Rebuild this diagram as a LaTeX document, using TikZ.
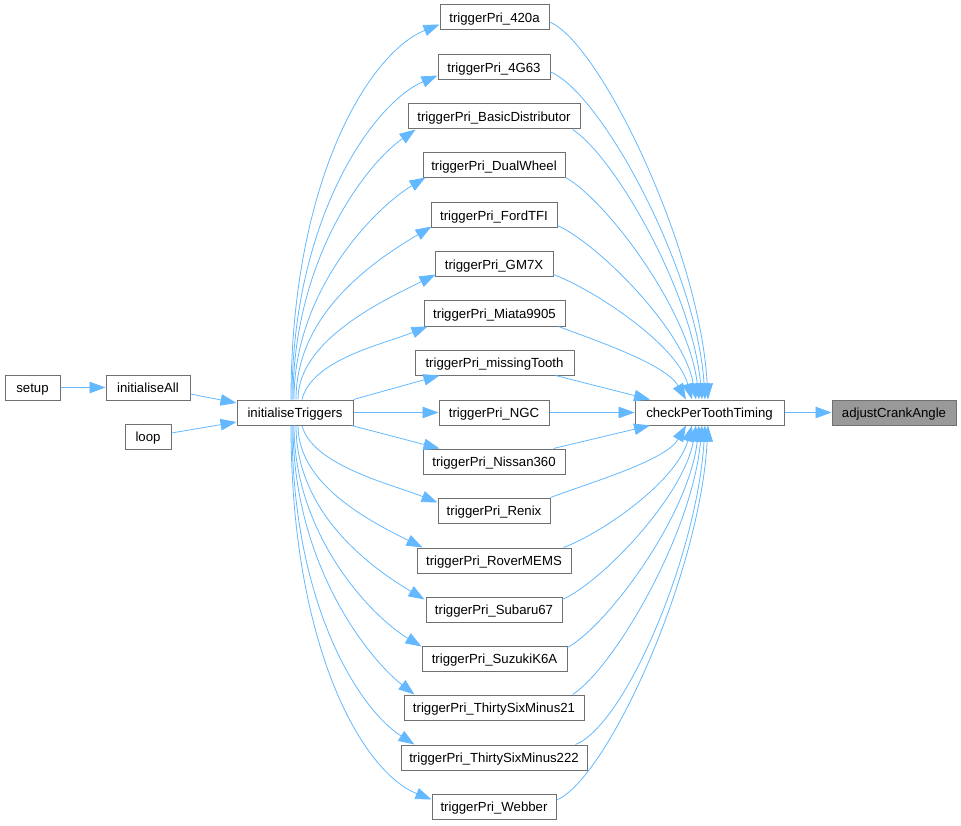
\documentclass[tikz,border=0pt]{standalone}
\usepackage{fontspec}
\setmainfont{Liberation Sans}
\usetikzlibrary{arrows.meta}
\definecolor{edgeblue}{HTML}{63B8FF}
\definecolor{boxline}{HTML}{707070}
\definecolor{boxfill}{HTML}{999999}
\tikzset{
  box/.style={draw=boxline, line width=1pt, fill=white, minimum height=25pt, inner sep=0pt,
    text height=10.8pt, text depth=0pt,
    font=\fontsize{13.2}{15}\selectfont, text=black, anchor=center},
  hibox/.style={box, fill=boxfill},
  edge/.style={draw=edgeblue, line width=0.8pt, -{Triangle[length=16pt,width=11.5pt]}, fill=none},
}
\begin{document}
\begin{tikzpicture}[x=1pt,y=-1pt]
\useasboundingbox (0,0) rectangle (961,826);
% left part
\node[box, minimum width=55pt] (setup) at (32.5,387.5) {setup};
\node[box, minimum width=84pt] (ia) at (148,387.5) {initialiseAll};
\node[box, minimum width=46pt] (loop) at (148,436.5) {loop};
\node[box, minimum width=116pt] (it) at (295,412.5) {initialiseTriggers};
\node[box, minimum width=149pt] (c) at (709.5,412.5) {checkPerToothTiming};
\node[hibox, minimum width=124pt] (adj) at (894,412.5) {adjustCrankAngle};
% trigger column
\node[box, minimum width=109pt] (t1) at (494.5,17.5) {triggerPri\_420a};
\node[box, minimum width=112pt] (t2) at (494,67) {triggerPri\_4G63};
\node[box, minimum width=172pt] (t3) at (494,116.5) {triggerPri\_BasicDistributor};
\node[box, minimum width=142pt] (t4) at (494,165.5) {triggerPri\_DualWheel};
\node[box, minimum width=126pt] (t5) at (494,215) {triggerPri\_FordTFI};
\node[box, minimum width=118pt] (t6) at (494,264.5) {triggerPri\_GM7X};
\node[box, minimum width=141pt] (t7) at (494.5,313.5) {triggerPri\_Miata9905};
\node[box, minimum width=159pt] (t8) at (494.5,362.5) {triggerPri\_missingTooth};
\node[box, minimum width=110pt] (t9) at (494,412.5) {triggerPri\_NGC};
\node[box, minimum width=142pt] (t10) at (494,461.5) {triggerPri\_Nissan360};
\node[box, minimum width=112pt] (t11) at (494,510.5) {triggerPri\_Renix};
\node[box, minimum width=154pt] (t12) at (494,560.5) {triggerPri\_RoverMEMS};
\node[box, minimum width=136pt] (t13) at (494,609.5) {triggerPri\_Subaru67};
\node[box, minimum width=145pt] (t14) at (494.5,658.5) {triggerPri\_SuzukiK6A};
\node[box, minimum width=180pt] (t15) at (494,707.5) {triggerPri\_ThirtySixMinus21};
\node[box, minimum width=186pt] (t16) at (494,757.5) {triggerPri\_ThirtySixMinus222};
\node[box, minimum width=124pt] (t17) at (494,806.5) {triggerPri\_Webber};
% left edges
\draw[edge] (setup.east) -- (ia.west);
\draw[edge] ([yshift=-6.5pt]ia.east) -- ([yshift=9.5pt]it.west);
\draw[edge] ([yshift=3.5pt]loop.east) -- ([yshift=-9.5pt]it.west);
\draw[edge] (c.east) -- (adj.west);
% initialiseTriggers -> triggers (upper)
\draw[edge] ([xshift=-4pt]it.north) .. controls +(0,-220) and +(-70,28) .. ([yshift=6pt]t1.south west);
\draw[edge] ([xshift=-3pt]it.north) .. controls +(0,-180) and +(-65,28) .. ([yshift=4.5pt]t2.south west);
\draw[edge] ([xshift=-2pt]it.north) .. controls +(0,-140) and +(-50,35) .. ([xshift=8pt]t3.south west);
\draw[edge] ([xshift=-1pt]it.north) .. controls +(0,-110) and +(-50,30) .. ([xshift=3pt,yshift=1pt]t4.south west);
\draw[edge] ([xshift=1pt]it.north) .. controls +(0,-90) and +(-50,30) .. ([xshift=1pt,yshift=1.5pt]t5.south west);
\draw[edge] ([xshift=3pt]it.north) .. controls +(0,-60) and +(-50,25) .. ([xshift=1pt,yshift=3pt]t6.south west);
\draw[edge] ([xshift=7pt]it.north) .. controls +(10,-40) and +(-45,18) .. ([xshift=4pt]t7.south west);
\draw[edge] (it.north east) -- ([xshift=25pt]t8.south west);
\draw[edge] (it.east) -- (t9.west);
% lower
\draw[edge] ([xshift=-2pt]it.south east) -- ([xshift=17pt]t10.north west);
\draw[edge] ([xshift=7pt]it.south) .. controls +(10,40) and +(-45,-18) .. ([yshift=-5pt]t11.north west);
\draw[edge] ([xshift=3pt]it.south) .. controls +(0,60) and +(-50,-25) .. ([xshift=6pt]t12.north west);
\draw[edge] ([xshift=1pt]it.south) .. controls +(0,90) and +(-50,-30) .. ([xshift=-1pt,yshift=-3pt]t13.north west);
\draw[edge] ([xshift=-1pt]it.south) .. controls +(0,110) and +(-50,-30) .. ([yshift=-1pt]t14.north west);
\draw[edge] ([xshift=-2pt]it.south) .. controls +(0,140) and +(-45,-35) .. ([xshift=11pt]t15.north west);
\draw[edge] ([xshift=-3pt]it.south) .. controls +(0,180) and +(-55,-35) .. ([xshift=14pt]t16.north west);
\draw[edge] ([xshift=-4pt]it.south) .. controls +(0,220) and +(-70,-28) .. ([yshift=-6pt]t17.north west);
% triggers -> checkPerToothTiming (upper)
\draw[edge] ([yshift=-4.5pt]t1.east) .. controls +(50,20) and +(-8,-150) .. ([xshift=-1.5pt]c.north);
\draw[edge] ([yshift=-5pt]t2.east) .. controls +(50,20) and +(-8,-130) .. ([xshift=-4.5pt]c.north);
\draw[edge] ([xshift=-8pt]t3.south east) .. controls +(40,25) and +(-10,-110) .. ([xshift=-7.5pt]c.north);
\draw[edge] ([yshift=1pt]t4.south east) .. controls +(40,22) and +(-10,-90) .. ([xshift=-10.5pt]c.north);
\draw[edge] ([yshift=2.5pt]t5.south east) .. controls +(40,18) and +(-12,-70) .. ([xshift=-13.5pt]c.north);
\draw[edge] ([yshift=3pt]t6.south east) .. controls +(40,15) and +(-15,-55) .. ([xshift=-17.5pt]c.north);
\draw[edge] ([xshift=-7pt]t7.south east) .. controls +(40,15) and +(-20,-35) .. ([xshift=-23.5pt]c.north);
\draw[edge] ([xshift=-19pt]t8.south east) -- ([xshift=-59.5pt]c.north);
\draw[edge] (t9.east) -- (c.west);
% lower
\draw[edge] ([xshift=-12pt]t10.north east) -- ([xshift=-59.5pt]c.south);
\draw[edge] (t11.north east) .. controls +(40,-15) and +(-20,35) .. ([xshift=-23.5pt]c.south);
\draw[edge] ([xshift=-8pt]t12.north east) .. controls +(40,-15) and +(-15,55) .. ([xshift=-17.5pt]c.south);
\draw[edge] ([yshift=-3pt]t13.north east) .. controls +(40,-18) and +(-12,70) .. ([xshift=-13.5pt]c.south);
\draw[edge] ([yshift=-2pt]t14.north east) .. controls +(40,-22) and +(-10,90) .. ([xshift=-10.5pt]c.south);
\draw[edge] ([xshift=-12pt]t15.north east) .. controls +(40,-25) and +(-10,110) .. ([xshift=-7.5pt]c.south);
\draw[edge] ([xshift=-12pt]t16.north east) .. controls +(50,-20) and +(-8,130) .. ([xshift=-4.5pt]c.south);
\draw[edge] ([yshift=6.5pt]t17.east) .. controls +(50,-20) and +(-8,150) .. ([xshift=-1.5pt]c.south);
\end{tikzpicture}
\end{document}
